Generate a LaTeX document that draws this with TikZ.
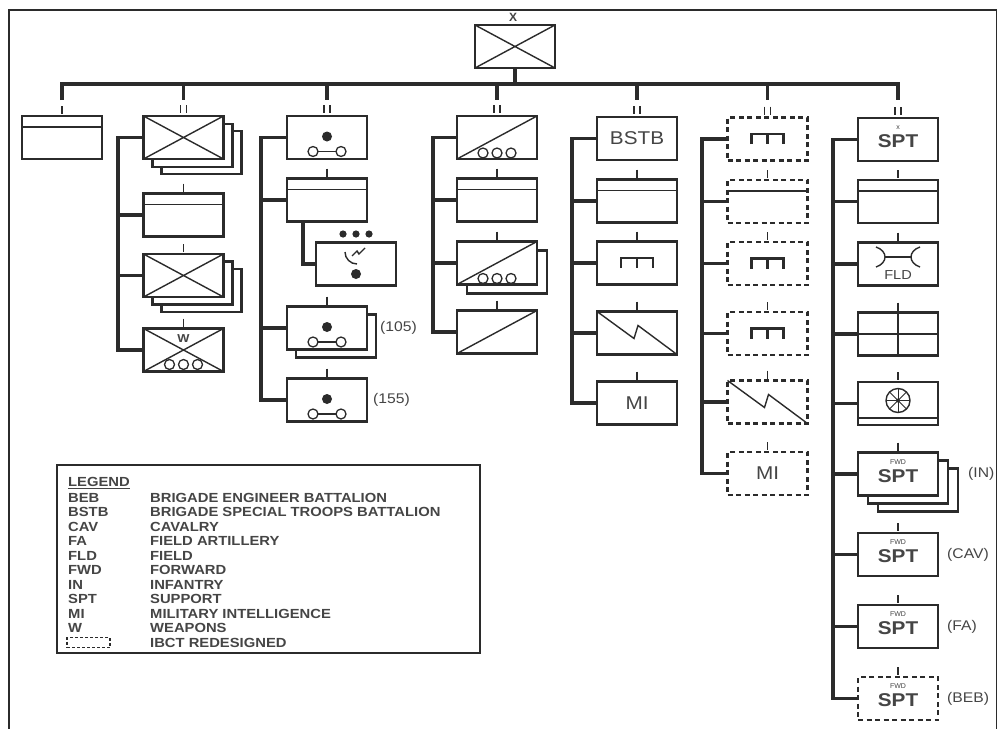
\documentclass[tikz,border=0pt]{standalone}
\usepackage{fontspec}
\setmainfont{Liberation Sans}
\usepackage{graphicx}
\usetikzlibrary{calc}
\definecolor{ink}{HTML}{2B2B2B}
\definecolor{txt}{HTML}{454545}
\newcommand{\hsc}[1]{\scalebox{1.12}[1]{#1}}
\newcommand{\boxfnt}{\fontsize{18.5}{20}\selectfont}
\newcommand{\sidefnt}{\fontsize{14}{16}\selectfont}
\newcommand{\legfnt}{\bfseries\fontsize{13.2}{15}\selectfont}
\newcommand{\tinyfnt}{\fontsize{7}{8}\selectfont}
\newcommand{\Xc}[1]{\draw[sym] (#1.north west) -- (#1.south east) (#1.north east) -- (#1.south west);}
\newcommand{\Hd}[1]{\draw[sym] ($(#1.north west)+(0,11)$) -- ($(#1.north east)+(0,11)$);}
\newcommand{\Dg}[1]{\draw[sym] (#1.south west) -- (#1.north east);}
\newcommand{\Ooo}[2]{\foreach \dx in {-14,0,14} {\draw[ring] ($(#1.south)+(\dx,-#2)$) circle[radius=5];}}
\newcommand{\Gun}[1]{\fill[ink] ($(#1.center)+(0,-1)$) circle[radius=5];
  \draw[sym] ($(#1.center)+(-9,14)$) -- ($(#1.center)+(9,14)$);
  \draw[ring] ($(#1.center)+(-14,14)$) circle[radius=5] ($(#1.center)+(14,14)$) circle[radius=5];}
\newcommand{\Eng}[1]{\draw[eng] ($(#1.center)+(-16,5)$) -- ++(0,-10) -- ++(32,0) -- ++(0,10) ($(#1.center)+(0,-5)$) -- ++(0,10);}
\newcommand{\Sig}[1]{\draw[sym] (#1.north west) -- ($(#1.north west)+(37,27)$) -- ($(#1.north west)+(41,14)$) -- (#1.south east);}
\newcommand{\EchI}[1]{\draw[ech] ($(#1.north)+(0,-10)$) -- ++(0,8);}
\newcommand{\EchII}[1]{\draw[ech] ($(#1.north)+(-3,-11)$) -- ++(0,8) ($(#1.north)+(3,-11)$) -- ++(0,8);}
\begin{document}
\begin{tikzpicture}[x=1pt,y=-1pt,
  unit/.style={draw=ink,line width=2.6pt,fill=white,minimum width=80pt,minimum height=43pt,inner sep=0pt,outer sep=0pt,text=txt,font=\boxfnt},
  dunit/.style={unit,dash pattern=on 5pt off 3.5pt},
  tree/.style={draw=ink,line width=3.6pt},
  sym/.style={draw=ink,line width=1.4pt},
  ech/.style={draw=ink,line width=1.8pt},
  eng/.style={draw=ink,line width=2.2pt},
  ring/.style={draw=ink,line width=1.3pt,fill=white},
  lab/.style={text=txt,font=\boxfnt,inner sep=0pt},
  side/.style={text=txt,font=\sidefnt,anchor=west,inner sep=0pt},
  leg/.style={text=txt,font=\legfnt,anchor=west,inner sep=0pt}]
\useasboundingbox (0,0) rectangle (998,728);
\fill[white] (0,0) rectangle (998,728);
\draw[ink,line width=1.5pt] (9,10) rectangle (996.5,760);

% ---------- top ----------
\node[unit] (bde) at (515,46.5) {}; \Xc{bde}
\coordinate (barL) at (62,84);
\node[font=\bfseries\fontsize{12}{13}\selectfont,text=txt,inner sep=0pt] (bdeX) at (513,17) {X};

\coordinate (c2x) at (118,0);
\coordinate (c3x) at (261,0);
\coordinate (c3sx) at (303,0);
\coordinate (c4x) at (433,0);
\coordinate (c5x) at (572,0);
\coordinate (c6x) at (702,0);
\coordinate (c7x) at (833,0);

% ---------- column 1 ----------
\node[unit] (c1b1) at (62,137.5) {}; \Hd{c1b1} \EchI{c1b1}

% ---------- column 2 ----------
\node[unit] (c2b1s2) at (201.5,152.5) {};
\node[unit] (c2b1s1) at (192.5,145.5) {};
\node[unit] (c2b1) at (183.5,137.5) {}; \Xc{c2b1} \EchII{c2b1}
\node[unit] (c2b2) at (183.5,215) {}; \Hd{c2b2} \EchI{c2b2}
\node[unit] (c2b3s2) at (201.5,290.5) {};
\node[unit] (c2b3s1) at (192.5,283) {};
\node[unit] (c2b3) at (183.5,275.5) {}; \Xc{c2b3} \EchI{c2b3}
\node[unit] (c2b4) at (183.5,350) {}; \Xc{c2b4} \EchI{c2b4} \Ooo{c2b4}{7}
\node[font=\bfseries\fontsize{11.5}{12}\selectfont,text=txt,inner sep=0pt] (c2b4w) at ($(c2b4.north)+(0,10)$) {\hsc{W}};

% ---------- column 3 ----------
\node[unit] (c3b1) at (327,137.5) {}; \Gun{c3b1} \EchII{c3b1}
\node[unit] (c3b2) at (327,200) {}; \Hd{c3b2} \EchI{c3b2}
\node[unit] (c3sub) at (356,264) {};
\draw[sym] ($(c3sub.center)+(-11,-12)$) arc[start angle=180,end angle=90,radius=12];
\draw[sym] ($(c3sub.center)+(-4,-8)$) -- ++(5,-5) -- ++(2,3) -- ++(6,-6);
\fill[ink] ($(c3sub.center)+(0,10)$) circle[radius=5];
\foreach \dx in {-13,0,13} {\fill[ink] ($(c3sub.center)+(\dx,-30)$) circle[radius=3.6];}
\node[unit] (c3b3s1) at (336,336) {};
\node[unit] (c3b3) at (327,328) {}; \Gun{c3b3} \EchI{c3b3}
\node[unit] (c3b4) at (327,400) {}; \Gun{c3b4} \EchI{c3b4}
\node[side] (l105) at (380,328) {\hsc{(105)}};
\node[side] (l155) at (373,400) {\hsc{(155)}};

% ---------- column 4 ----------
\node[unit] (c4b1) at (497,137.5) {}; \Dg{c4b1} \Ooo{c4b1}{6} \EchII{c4b1}
\node[unit] (c4b2) at (497,200) {}; \Hd{c4b2} \EchI{c4b2}
\node[unit] (c4b3s1) at (507,272) {};
\node[unit] (c4b3) at (497,263) {}; \Dg{c4b3} \Ooo{c4b3}{6} \EchI{c4b3}
\node[unit] (c4b4) at (497,332) {}; \Dg{c4b4} \EchI{c4b4}

% ---------- column 5 ----------
\node[unit] (c5b1) at (637,138.5) {\hsc{BSTB}}; \EchII{c5b1}
\node[unit] (c5b2) at (637,201) {}; \Hd{c5b2} \EchI{c5b2}
\node[unit] (c5b3) at (637,263) {}; \Eng{c5b3} \EchI{c5b3}
\node[unit] (c5b4) at (637,333) {}; \Sig{c5b4} \EchI{c5b4}
\node[unit] (c5b5) at (637,403) {\hsc{MI}}; \EchI{c5b5}

% ---------- column 6 ----------
\node[dunit] (c6b1) at (767.5,139) {}; \Eng{c6b1} \EchII{c6b1}
\node[dunit] (c6b2) at (767.5,201.5) {}; \Hd{c6b2} \EchI{c6b2}
\node[dunit] (c6b3) at (767.5,263.5) {}; \Eng{c6b3} \EchI{c6b3}
\node[dunit] (c6b4) at (767.5,333.5) {}; \Eng{c6b4} \EchI{c6b4}
\node[dunit] (c6b5) at (767.5,402) {}; \Sig{c6b5} \EchI{c6b5}
\node[dunit] (c6b6) at (767.5,473.5) {\hsc{MI}}; \EchI{c6b6}

% ---------- column 7 ----------
\node[unit] (c7b1) at (898,139.5) {}; \EchII{c7b1}
\node[lab,font=\tinyfnt] (c7b1x) at ($(c7b1.center)+(0,-12)$) {x};
\node[lab] (c7b1t) at ($(c7b1.center)+(0,2)$) {\hsc{\bfseries SPT}};
\node[unit] (c7b2) at (898,201.5) {}; \Hd{c7b2} \EchI{c7b2}
\node[unit] (c7b3) at (898,264) {}; \EchI{c7b3}
\draw[sym] ($(c7b3.center)+(-22,-17)$) .. controls ($(c7b3.center)+(-10,-13)$) and ($(c7b3.center)+(-10,-1)$) .. ($(c7b3.center)+(-22,3)$);
\draw[sym] ($(c7b3.center)+(22,-17)$) .. controls ($(c7b3.center)+(10,-13)$) and ($(c7b3.center)+(10,-1)$) .. ($(c7b3.center)+(22,3)$);
\draw[sym] ($(c7b3.center)+(-13,-7)$) -- ($(c7b3.center)+(13,-7)$);
\node[lab,font=\fontsize{13}{14}\selectfont] (c7b3t) at ($(c7b3.center)+(0,11)$) {\hsc{FLD}};
\node[unit] (c7b4) at (898,334) {}; \EchI{c7b4}
\draw[sym] (c7b4.north) -- (c7b4.south) (c7b4.west) -- (c7b4.east);
\node[unit] (c7b5) at (898,403.5) {}; \EchI{c7b5}
\draw[sym] ($(c7b5.center)+(0,-3)$) circle[radius=12];
\foreach \a in {0,45,90,135} {\draw[ink,line width=1pt] ($(c7b5.center)+(0,-3)+(\a:12)$) -- ($(c7b5.center)+(0,-3)+(\a+180:12)$);}
\fill[ink] ($(c7b5.center)+(0,-3)$) circle[radius=2];
\draw[sym] ($(c7b5.south west)+(0,-7)$) -- ($(c7b5.south east)+(0,-7)$);
\node[unit] (c7b6s2) at (918,490) {};
\node[unit] (c7b6s1) at (908,482) {};
\node[unit] (c7b6) at (898,474) {}; \EchI{c7b6}
\node[unit] (c7b7) at (898,554.5) {}; \EchI{c7b7}
\node[unit] (c7b8) at (898,626.5) {}; \EchI{c7b8}
\node[dunit] (c7b9) at (898,698.5) {}; \EchI{c7b9}
\foreach \n in {c7b6,c7b7,c7b8,c7b9} {
  \node[lab,font=\tinyfnt] (\n f) at ($(\n.center)+(0,-12)$) {FWD};
  \node[lab] (\n t) at ($(\n.center)+(0,2)$) {\hsc{\bfseries SPT}};
}
\node[side] (lIN) at (968,474) {\hsc{(IN)}};
\node[side] (lCAV) at (947,554.5) {\hsc{(CAV)}};
\node[side] (lFA) at (947,626.5) {\hsc{(FA)}};
\node[side] (lBEB) at (947,698.5) {\hsc{(BEB)}};

% ---------- connectors ----------
\draw[tree] (bde.south) -- (bde.south |- barL);
\draw[tree] ($(c1b1.north |- barL)+(0,16)$) -- (c1b1.north |- barL) -- (c7b1.north |- barL) -- ++(0,16);
\foreach \n in {c2b1,c3b1,c4b1,c5b1,c6b1} {\draw[tree] (\n.north |- barL) -- ++(0,16);}

\draw[tree] (c2b1.west) -- (c2b1.west -| c2x) |- (c2b4.west);
\foreach \n in {c2b2,c2b3} {\draw[tree] (\n.west) -- (\n.west -| c2x);}
\draw[tree] (c3b1.west) -- (c3b1.west -| c3x) |- (c3b4.west);
\foreach \n in {c3b2,c3b3} {\draw[tree] (\n.west) -- (\n.west -| c3x);}
\draw[tree] (c3b2.south -| c3sx) |- (c3sub.west);
\draw[tree] (c4b1.west) -- (c4b1.west -| c4x) |- (c4b4.west);
\foreach \n in {c4b2,c4b3} {\draw[tree] (\n.west) -- (\n.west -| c4x);}
\draw[tree] (c5b1.west) -- (c5b1.west -| c5x) |- (c5b5.west);
\foreach \n in {c5b2,c5b3,c5b4} {\draw[tree] (\n.west) -- (\n.west -| c5x);}
\draw[tree] (c6b1.west) -- (c6b1.west -| c6x) |- (c6b6.west);
\foreach \n in {c6b2,c6b3,c6b4,c6b5} {\draw[tree] (\n.west) -- (\n.west -| c6x);}
\draw[tree] (c7b1.west) -- (c7b1.west -| c7x) |- (c7b9.west);
\foreach \n in {c7b2,c7b3,c7b4,c7b5,c7b6,c7b7,c7b8} {\draw[tree] (\n.west) -- (\n.west -| c7x);}

% ---------- legend ----------
\node[draw=ink,line width=2.6pt,fill=white,minimum width=423pt,minimum height=188pt,inner sep=0pt,outer sep=0pt,anchor=north west] (legend) at (57,465) {};
\node[leg] (legT) at (68,483) {\hsc{\underline{LEGEND}}};
\foreach \ab/\tx [count=\i from 0] in {BEB/BRIGADE ENGINEER BATTALION,BSTB/BRIGADE SPECIAL TROOPS BATTALION,CAV/CAVALRY,FA/FIELD ARTILLERY,FLD/FIELD,FWD/FORWARD,IN/INFANTRY,SPT/SUPPORT,MI/MILITARY INTELLIGENCE,W/WEAPONS} {
  \node[leg] (la\i) at (68,497.5+14.5*\i) {\hsc{\ab}};
  \node[leg] (lt\i) at (150,497.5+14.5*\i) {\hsc{\tx}};
}
\node[draw=ink,line width=1.6pt,dash pattern=on 3pt off 2pt,minimum width=43pt,minimum height=10pt,inner sep=0pt] (legdash) at (88.5,642.5) {};
\node[leg] (ltd) at (150,642.5) {\hsc{IBCT REDESIGNED}};
\end{tikzpicture}
\end{document}
